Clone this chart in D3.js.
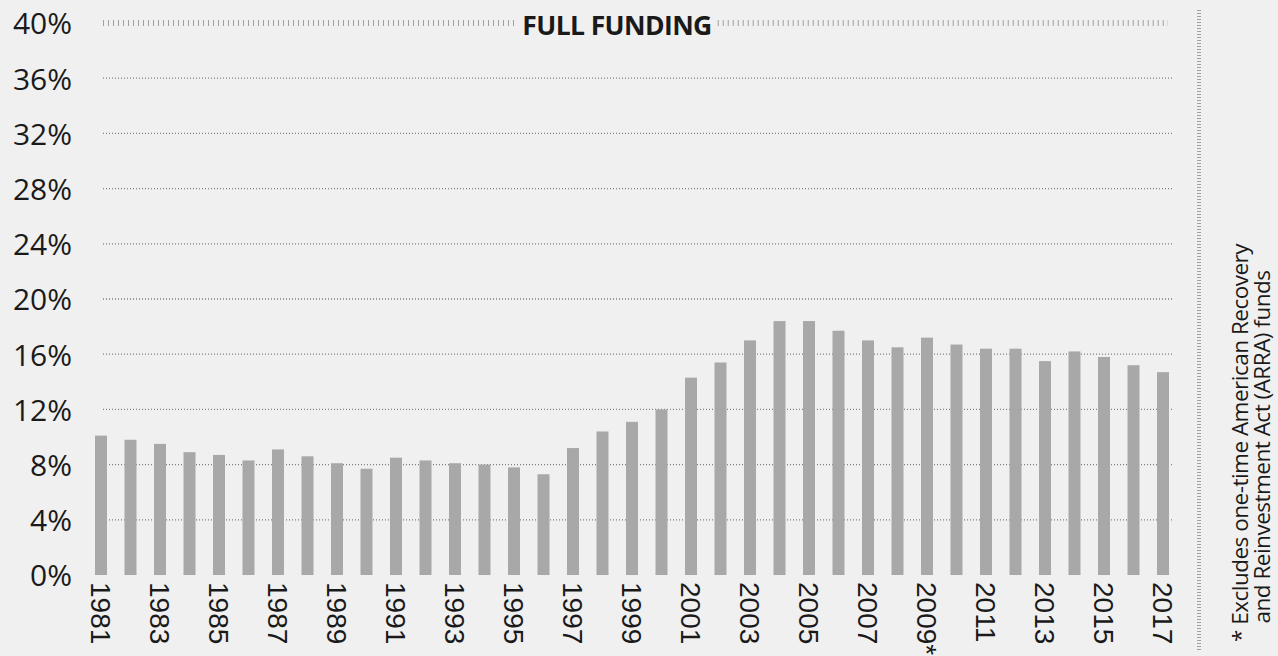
<!DOCTYPE html>
<html>
<head>
<meta charset="utf-8">
<script src="https://cdn.jsdelivr.net/npm/d3@7"></script>
<style>
  html, body { margin: 0; padding: 0; background: #f0f0f0; }
  svg { display: block; }
</style>
</head>
<body>
<svg id="chart" width="1278" height="656"></svg>
<script>
// ---- data ----
const years = d3.range(1981, 2018);
const values = [
  10.1, 9.8, 9.5, 8.9, 8.7, 8.3, 9.1, 8.6, 8.1, 7.7,
  8.5, 8.3, 8.1, 8.0, 7.8, 7.3, 9.2, 10.4, 11.1, 12.0,
  14.3, 15.4, 17.0, 18.4, 18.4, 17.7, 17.0, 16.5, 17.2, 16.7,
  16.4, 16.4, 15.5, 16.2, 15.8, 15.2, 14.7
];
const yTicks = [0, 4, 8, 12, 16, 20, 24, 28, 32, 36, 40];
const xTickLabels = ["1981","1983","1985","1987","1989","1991","1993","1995","1997","1999",
  "2001","2003","2005","2007","2009*","2011","2013","2015","2017"];
const fullFundingLabel = "FULL FUNDING";
const noteLines = ["* Excludes one-time American Recovery", "and Reinvestment Act (ARRA) funds"];

// ---- layout ----
const svg = d3.select("#chart");
const W = 1278, H = 656;
svg.append("rect").attr("width", W).attr("height", H).attr("fill", "#f0f0f0");

const x = d3.scalePoint().domain(years).range([101, 1163]);
const y = d3.scaleLinear().domain([0, 40]).range([575, 23]);
const barW = 12;
const gridX0 = 103, gridX1 = 1172;

// gridlines (dotted)
const grid = svg.append("g");
yTicks.filter(t => t > 0 && t < 40).forEach(t => {
  grid.append("line")
    .attr("x1", gridX0).attr("x2", gridX1)
    .attr("y1", y(t)).attr("y2", y(t))
    .attr("stroke", "#808080")
    .attr("stroke-width", 1.3)
    .attr("stroke-dasharray", "1,2");
});

// full funding line (tick-style)
const ffY = y(40);
const ffText = svg.append("text")
  .attr("x", 617).attr("y", ffY + 12)
  .attr("text-anchor", "middle")
  .attr("font-family", "'Open Sans', sans-serif")
  .attr("font-weight", 700)
  .attr("font-size", 26.5)
  .attr("letter-spacing", -0.6)
  .attr("fill", "#1a1a1a")
  .text(fullFundingLabel);
const bb = ffText.node().getBBox();
[[gridX0, bb.x - 6], [bb.x + bb.width + 6, 1168]].forEach(([a, b]) => {
  svg.insert("line", "text")
    .attr("x1", a).attr("x2", b)
    .attr("y1", ffY).attr("y2", ffY)
    .attr("stroke", "#a0a0a0")
    .attr("stroke-width", 6)
    .attr("stroke-dasharray", "1,4");
});

// bars
svg.append("g").selectAll("rect")
  .data(years)
  .join("rect")
  .attr("x", d => x(d) - barW / 2)
  .attr("width", barW)
  .attr("y", (d, i) => y(values[i]))
  .attr("height", (d, i) => y(0) - y(values[i]))
  .attr("fill", "#a8a8a8");

// y axis
const yAxis = d3.axisLeft(y).tickValues(yTicks).tickFormat(d => d + "%").tickSize(0).tickPadding(0);
const yg = svg.append("g").attr("transform", "translate(72,0)").call(yAxis);
yg.select(".domain").remove();
yg.selectAll("text")
  .attr("font-family", "'Open Sans', sans-serif")
  .attr("font-size", 30)
  .attr("fill", "#1a1a1a")
  .attr("dy", "0.36em");

// x axis labels (every other year)
const labelYears = years.filter((d, i) => i % 2 === 0);
const xAxis = d3.axisBottom(x).tickValues(labelYears)
  .tickFormat((d, i) => xTickLabels[i]).tickSize(0).tickPadding(0);
const xg = svg.append("g").attr("transform", `translate(0,${y(0) + 7})`).call(xAxis);
xg.select(".domain").remove();
xg.selectAll("text")
  .attr("font-family", "'Liberation Sans', Arial, sans-serif")
  .attr("font-size", 28)
  .attr("fill", "#1a1a1a")
  .attr("text-anchor", "start")
  .attr("transform", "rotate(90)")
  .attr("x", 0).attr("y", 0)
  .attr("dy", "0.36em");

// right vertical dotted separator
svg.append("line")
  .attr("x1", 1199).attr("x2", 1199)
  .attr("y1", 10).attr("y2", 652)
  .attr("stroke", "#a0a0a0")
  .attr("stroke-width", 4)
  .attr("stroke-dasharray", "1,2");

// note
const note = svg.append("g").attr("transform", "translate(1248,443) rotate(-90)");
noteLines.forEach((t, i) => {
  note.append("text")
    .attr("x", i === 0 ? 0 : -4)
    .attr("y", i * 22)
    .attr("text-anchor", "middle")
    .attr("font-family", "'Open Sans', sans-serif")
    .attr("font-size", 22.5)
    .attr("letter-spacing", -0.5)
    .attr("fill", "#1a1a1a")
    .text(t);
});
</script>
</body>
</html>
